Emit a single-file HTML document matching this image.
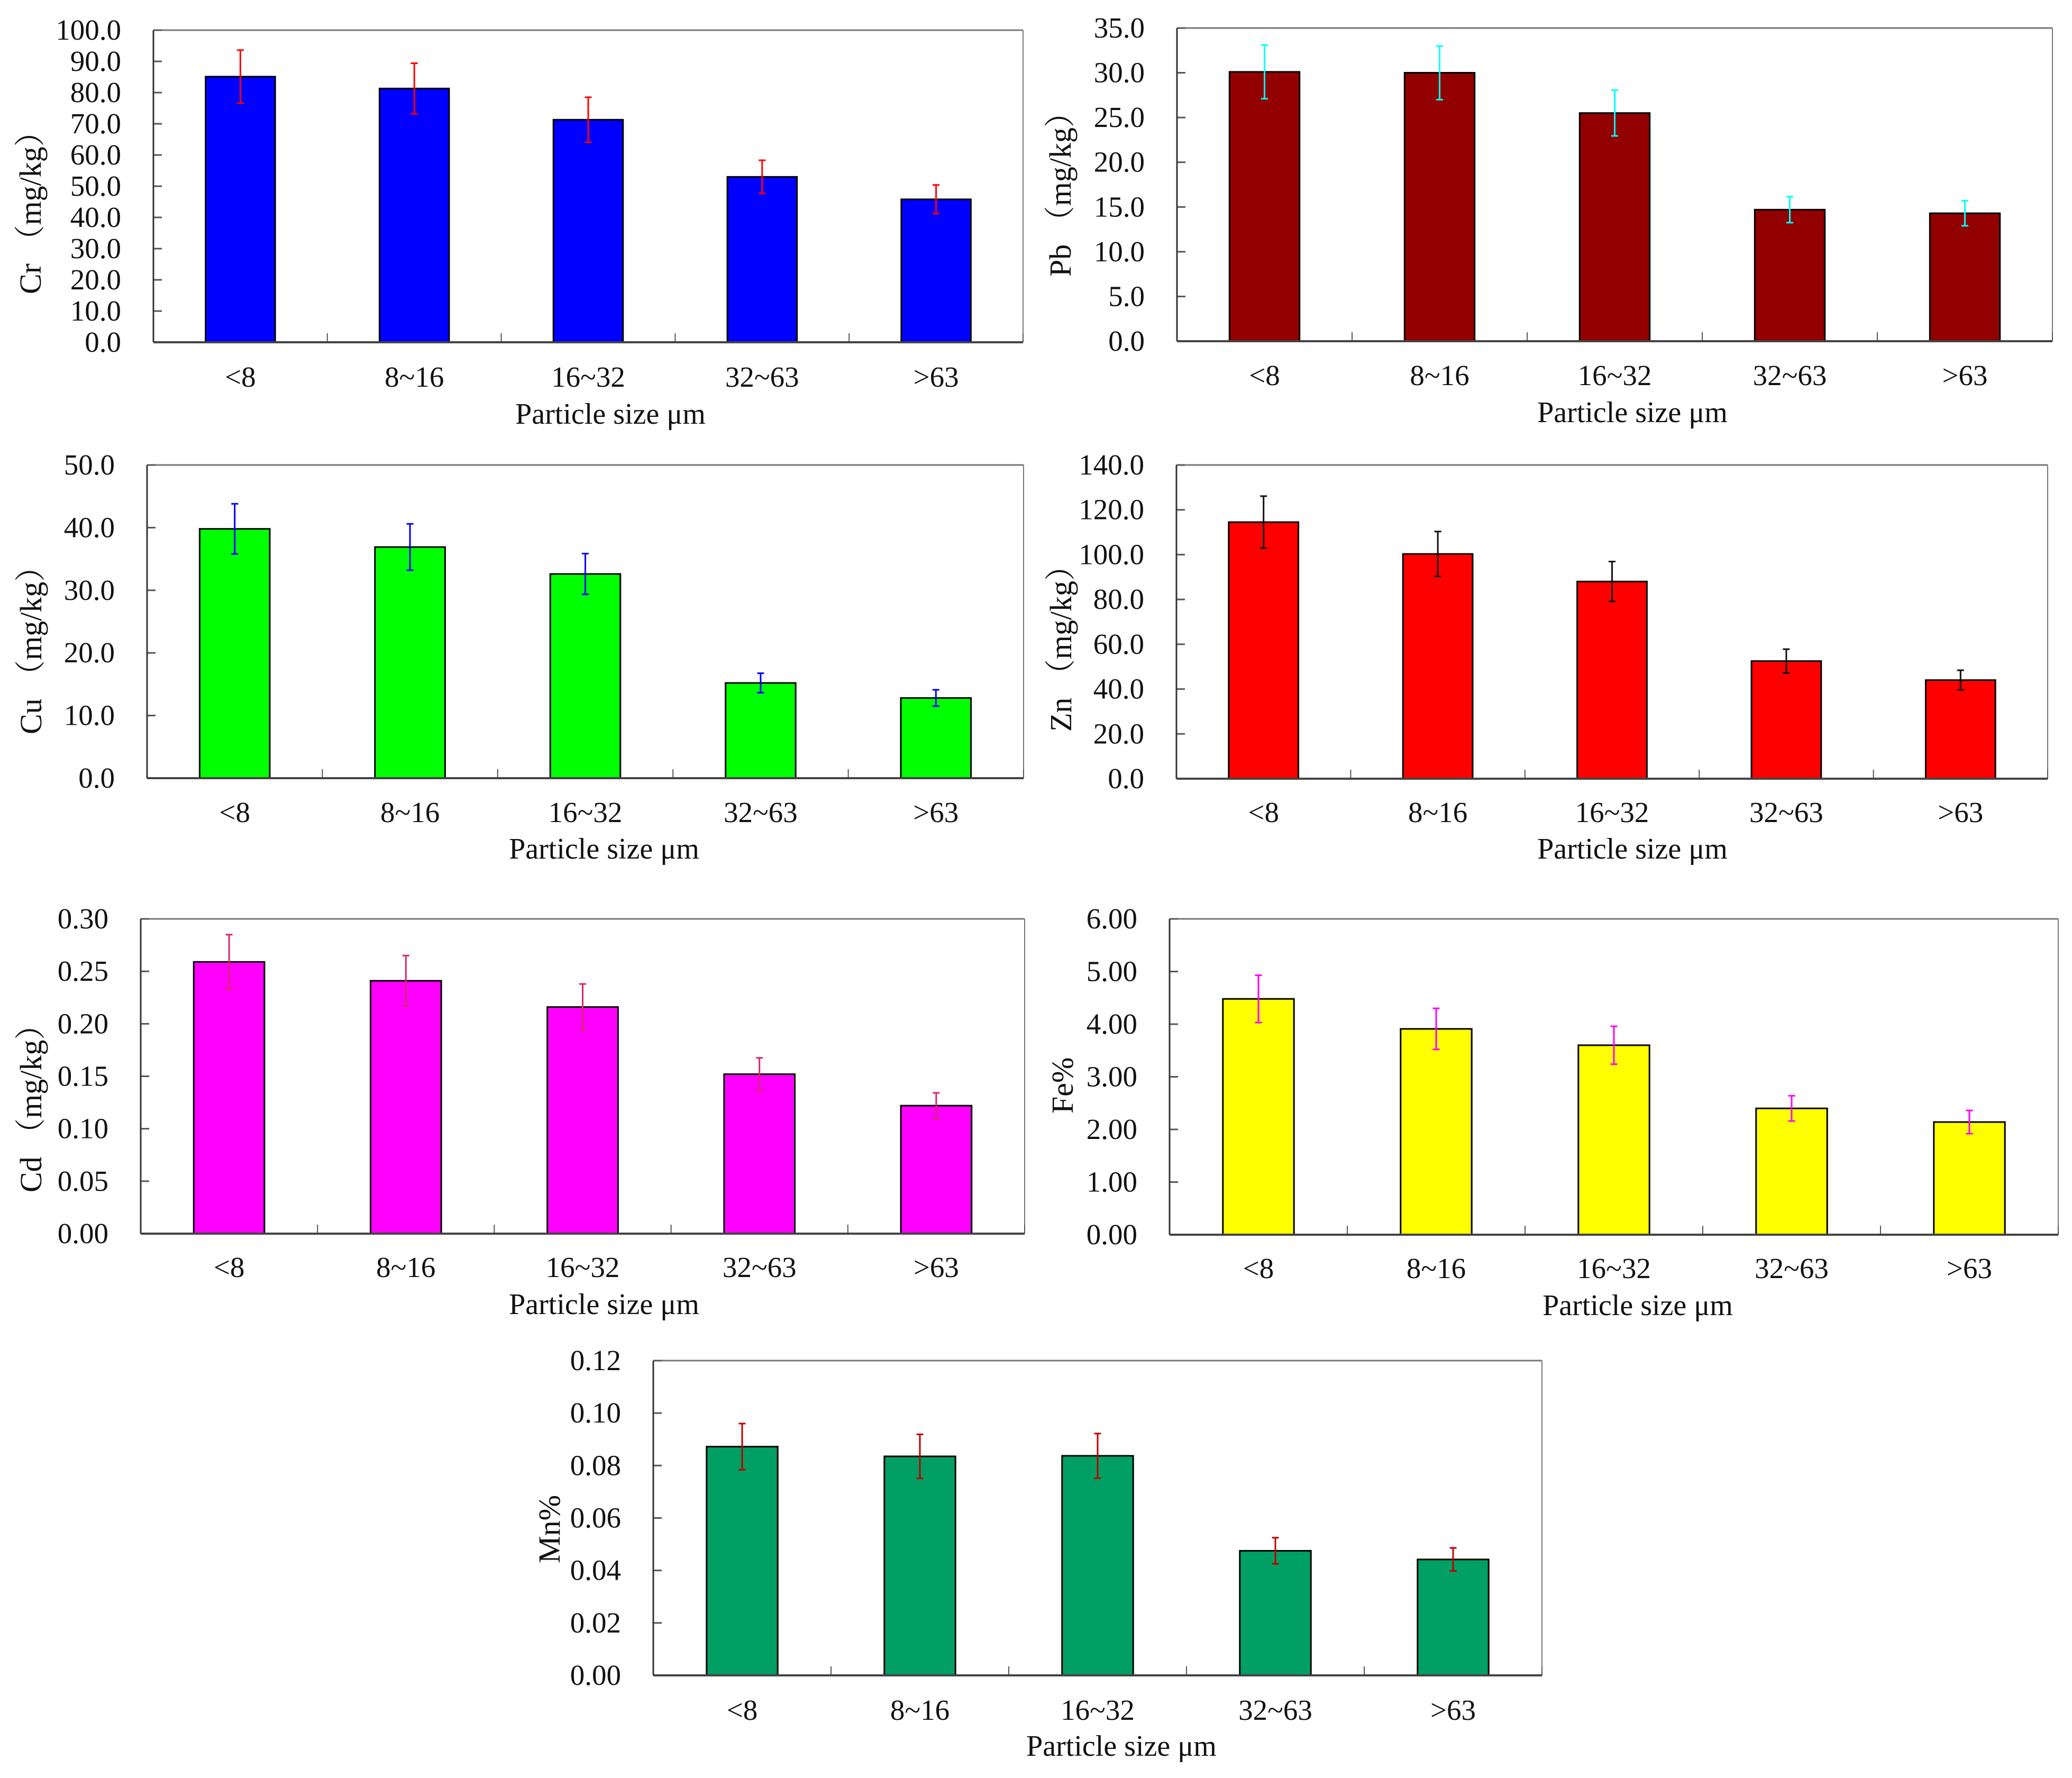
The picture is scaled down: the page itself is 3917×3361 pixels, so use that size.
<!DOCTYPE html>
<html lang="en">
<head>
<meta charset="utf-8">
<title>Metal concentration by particle size</title>
<style>
html,body{margin:0;padding:0;background:#fff}
svg{display:block}
text{font-family:"Liberation Serif","Noto Serif CJK SC",serif;fill:#111}
</style>
</head>
<body>
<svg id="figure" xmlns="http://www.w3.org/2000/svg" width="3917" height="3361" viewBox="0 0 3917 3361">
<rect width="3917" height="3361" fill="#fff"/>
</svg>
<script>
const categories = ['<8', '8~16', '16~32', '32~63', '>63'];

const crValues = [85.1, 81.3, 71.3, 53.0, 45.8];
const crErrors = [8.5, 8.1, 7.2, 5.3, 4.6];
const crTicks = ['0.0','10.0','20.0','30.0','40.0','50.0','60.0','70.0','80.0','90.0','100.0'];

const pbValues = [30.1, 30.0, 25.5, 14.7, 14.3];
const pbErrors = [3.0, 3.0, 2.55, 1.45, 1.4];
const pbTicks = ['0.0','5.0','10.0','15.0','20.0','25.0','30.0','35.0'];

const cuValues = [39.8, 36.9, 32.6, 15.2, 12.8];
const cuErrors = [4.0, 3.7, 3.25, 1.55, 1.3];
const cuTicks = ['0.0','10.0','20.0','30.0','40.0','50.0'];

const znValues = [114.5, 100.3, 88.0, 52.5, 44.0];
const znErrors = [11.6, 10.0, 8.9, 5.3, 4.4];
const znTicks = ['0.0','20.0','40.0','60.0','80.0','100.0','120.0','140.0'];

const cdValues = [0.259, 0.241, 0.216, 0.152, 0.122];
const cdErrors = [0.026, 0.024, 0.022, 0.0155, 0.0122];
const cdTicks = ['0.00','0.05','0.10','0.15','0.20','0.25','0.30'];

const feValues = [4.48, 3.91, 3.60, 2.40, 2.14];
const feErrors = [0.45, 0.39, 0.36, 0.24, 0.22];
const feTicks = ['0.00','1.00','2.00','3.00','4.00','5.00','6.00'];

const mnValues = [0.0872, 0.0835, 0.0837, 0.0475, 0.0442];
const mnErrors = [0.0088, 0.0084, 0.0085, 0.005, 0.0044];
const mnTicks = ['0.00','0.02','0.04','0.06','0.08','0.10','0.12'];

const charts = [
  {id:'cr', values:crValues, errors:crErrors, ticks:crTicks, fill:'#0000ff', err:'#ff0000', yTitle:'Cr （mg/kg）',
   left:290, right:1934, top:57, bottom:647, catY:731, xTitleX:1154, xTitleY:801, yTitleX:77, yTitleY:556},
  {id:'pb', values:pbValues, errors:pbErrors, ticks:pbTicks, fill:'#930000', err:'#00ffff', yTitle:'Pb （mg/kg）',
   left:2225, right:3880, top:53, bottom:645, catY:728, xTitleX:3086, xTitleY:798, yTitleX:2024, yTitleY:523},
  {id:'cu', values:cuValues, errors:cuErrors, ticks:cuTicks, fill:'#00ff00', err:'#0000ff', yTitle:'Cu （mg/kg）',
   left:278, right:1935, top:879, bottom:1471, catY:1554, xTitleX:1142, xTitleY:1623, yTitleX:78, yTitleY:1388},
  {id:'zn', values:znValues, errors:znErrors, ticks:znTicks, fill:'#ff0000', err:'#111111', yTitle:'Zn （mg/kg）',
   left:2224, right:3871, top:879, bottom:1472, catY:1554, xTitleX:3086, xTitleY:1623, yTitleX:2025, yTitleY:1383},
  {id:'cd', values:cdValues, errors:cdErrors, ticks:cdTicks, fill:'#ff00ff', err:'#d6286e', yTitle:'Cd （mg/kg）',
   left:266, right:1937, top:1737, bottom:2332, catY:2414, xTitleX:1142, xTitleY:2484, yTitleX:78, yTitleY:2254},
  {id:'fe', values:feValues, errors:feErrors, ticks:feTicks, fill:'#ffff00', err:'#ff00ff', yTitle:'Fe%',
   left:2211, right:3891, top:1737, bottom:2334, catY:2416, xTitleX:3096, xTitleY:2486, yTitleX:2028, yTitleY:2105},
  {id:'mn', values:mnValues, errors:mnErrors, ticks:mnTicks, fill:'#009f64', err:'#c00000', yTitle:'Mn%',
   left:1235, right:2915, top:2572, bottom:3167, catY:3251, xTitleX:2120, xTitleY:3319, yTitleX:1058, yTitleY:2955}
];

const NS = 'http://www.w3.org/2000/svg';
const figure = document.getElementById('figure');

function mk(parent, tag, attrs, txt) {
  const el = document.createElementNS(NS, tag);
  for (const k in attrs) el.setAttribute(k, attrs[k]);
  if (txt !== undefined) el.textContent = txt;
  parent.appendChild(el);
  return el;
}

function drawChart(c) {
  const g = mk(figure, 'g', {});
  
  

  const maxV = parseFloat(c.ticks[c.ticks.length - 1]);
  const yScale = v => c.bottom - (v / maxV) * (c.bottom - c.top);
  const band = (c.right - c.left) / categories.length;
  const xCenter = i => c.left + band * (i + 0.5);
  const barW = band * 0.4;

  // plot frame (top and right lighter)
  const top = mk(g, 'line', {x1:c.left, x2:c.right, y1:c.top, y2:c.top, stroke:'#777', 'stroke-width':3});
  
  
  const rightB = mk(g, 'line', {x1:c.right, x2:c.right, y1:c.top, y2:c.bottom, stroke:'#777', 'stroke-width':2});
  
  

  // y ticks and labels
  c.ticks.forEach((label, i) => {
    const y = yScale(parseFloat(label));
    if (i > 0) {
      const t = mk(g, 'line', {x1:c.left, x2:c.left + 16, y1:y, y2:y, stroke:'#555', 'stroke-width':3});
      
      
    }
    const tl = mk(g, 'text', {x:c.left - 61, y:y + 18, 'text-anchor':'end', 'font-size':55}, label);
    
    
  });

  // x ticks
  for (let i = 1; i <= categories.length; i++) {
    const x = c.left + band * i;
    const t = mk(g, 'line', {x1:x, x2:x, y1:c.bottom - 17, y2:c.bottom, stroke:'#555', 'stroke-width':2});
    
    
  }

  // bars
  c.values.forEach((v, i) => {
    const y = yScale(v);
    const b = mk(g, 'rect', {x:xCenter(i) - barW / 2, y:y, width:barW, height:c.bottom - y, fill:c.fill, stroke:'#000', 'stroke-width':3});
    
    
  });

  // axes drawn over the bars
  const leftAxis = mk(g, 'line', {x1:c.left, x2:c.left, y1:c.top, y2:c.bottom, stroke:'#333', 'stroke-width':3});
  
  
  const xAxis = mk(g, 'line', {x1:c.left, x2:c.right, y1:c.bottom, y2:c.bottom, stroke:'#444', 'stroke-width':4});
  
  

  // error bars
  c.values.forEach((v, i) => {
    const x = xCenter(i);
    const hi = yScale(v + c.errors[i]);
    const lo = yScale(v - c.errors[i]);
    const eg = mk(g, 'path', {
      d:'M' + x + ' ' + hi + 'V' + lo + 'M' + (x - 6.5) + ' ' + hi + 'H' + (x + 6.5) + 'M' + (x - 6.5) + ' ' + lo + 'H' + (x + 6.5),
      fill:'none', stroke:c.err, 'stroke-width':3
    });
    
    
  });

  // category labels
  categories.forEach((label, i) => {
    const cl = mk(g, 'text', {x:xCenter(i), y:c.catY, 'text-anchor':'middle', 'font-size':55}, label);
    
    
  });

  // axis titles
  const xt = mk(g, 'text', {x:c.xTitleX, y:c.xTitleY, 'text-anchor':'middle', 'font-size':56}, 'Particle size μm');
  
  
  const yt = mk(g, 'text', {transform:'translate(' + c.yTitleX + ' ' + c.yTitleY + ') rotate(-90)', 'font-size':58}, c.yTitle);
  
  
}

charts.forEach(drawChart);
</script>
</body>
</html>
